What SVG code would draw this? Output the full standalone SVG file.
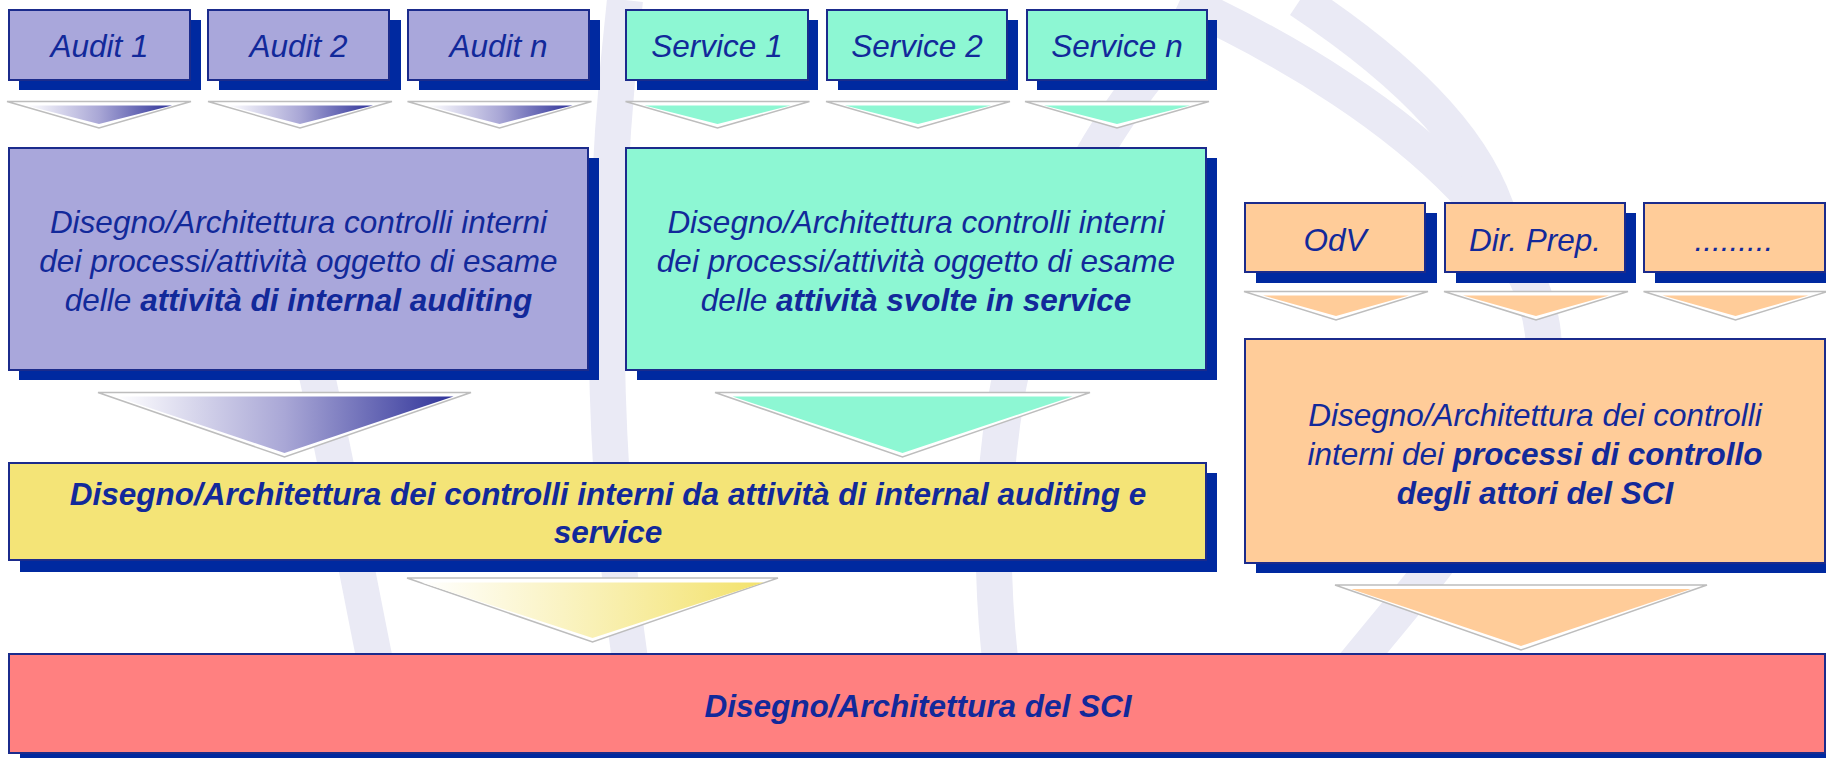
<svg xmlns="http://www.w3.org/2000/svg" width="1826" height="758" viewBox="0 0 1826 758">
<style>
.t{font-family:"Liberation Sans",Arial,sans-serif;font-style:italic;fill:#12299A;font-size:31.5px;text-anchor:middle}
.b{font-weight:bold}
.sh{fill:#0029A0}
.bx{stroke:#1B2B8C;stroke-width:2}
.lav{fill:#A9A7DB}.mint{fill:#8DF7D3}.org{fill:#FFCC99}.yel{fill:#F4E477}.red{fill:#FF8080}
.co{fill:#FFFFFF;stroke:#BDBDBD;stroke-width:1.5;stroke-linejoin:miter}
.wm{fill:none;stroke:#EAEAF5;stroke-width:36}
</style>
<defs>
<linearGradient id="gA" x1="0" y1="0" x2="1" y2="0"><stop offset="0" stop-color="#FFFFFF"/><stop offset="0.5" stop-color="#A9A7D6"/><stop offset="1" stop-color="#2F3399"/></linearGradient>
<linearGradient id="gY" x1="0" y1="0" x2="1" y2="0"><stop offset="0" stop-color="#FFFFFF"/><stop offset="1" stop-color="#F3E26C"/></linearGradient>
</defs>
<g id="watermark">
<path class="wm" d="M625,0 C600,220 595,470 645,758"/>
<path class="wm" d="M300,300 C340,470 365,620 395,758"/>
<path class="wm" d="M1215,0 C1040,170 950,420 1015,758"/>
<path class="wm" d="M1180,0 C1420,110 1570,260 1540,380 C1510,500 1400,600 1280,758"/>
<path class="wm" d="M1300,0 C1420,80 1480,150 1500,220"/>
</g>
<g id="connectors">
<polygon class="co" points="7,101.5 191,101.5 99,128"/><polygon fill="url(#gA)" points="26,105.5 172,105.5 99,124"/>
<polygon class="co" points="208,101.5 392,101.5 300,128"/><polygon fill="url(#gA)" points="227,105.5 373,105.5 300,124"/>
<polygon class="co" points="407.5,101.5 591.5,101.5 499.5,128"/><polygon fill="url(#gA)" points="426.5,105.5 572.5,105.5 499.5,124"/>
<polygon class="co" points="625.5,101.5 809.5,101.5 717.5,128"/><polygon class="mint" points="644.5,105.5 790.5,105.5 717.5,124"/>
<polygon class="co" points="826,101.5 1010,101.5 918,128"/><polygon class="mint" points="845,105.5 991,105.5 918,124"/>
<polygon class="co" points="1025,101.5 1209,101.5 1117,128"/><polygon class="mint" points="1044,105.5 1190,105.5 1117,124"/>
<polygon class="co" points="1244,291.5 1428,291.5 1336,320"/><polygon class="org" points="1263,295.5 1409,295.5 1336,316"/>
<polygon class="co" points="1444,291.5 1628,291.5 1536,320"/><polygon class="org" points="1463,295.5 1609,295.5 1536,316"/>
<polygon class="co" points="1643.5,291.5 1827.5,291.5 1735.5,320"/><polygon class="org" points="1662.5,295.5 1808.5,295.5 1735.5,316"/>
<polygon class="co" points="98,392.5 471,392.5 284.5,457"/><polygon fill="url(#gA)" points="115.5,396.5 453.5,396.5 284.5,453"/>
<polygon class="co" points="715,392.5 1090,392.5 902.5,457"/><polygon class="mint" points="732.5,396.5 1072.5,396.5 902.5,453"/>
<polygon class="co" points="407,578 778,578 592.5,642"/><polygon fill="url(#gY)" points="421.5,582.5 763.5,582.5 592.5,638"/>
<polygon class="co" points="1335,585 1707,585 1521,650"/><polygon class="org" points="1351,589 1691,589 1521,646"/>
</g>
<g id="audit1"><rect class="sh" x="19" y="20" width="182" height="70"/><rect class="bx lav" x="9" y="10" width="181" height="70"/><text class="t" x="99.5" y="57">Audit 1</text></g>
<g id="audit2"><rect class="sh" x="219" y="20" width="182" height="70"/><rect class="bx lav" x="208" y="10" width="181" height="70"/><text class="t" x="298.5" y="57">Audit 2</text></g>
<g id="auditn"><rect class="sh" x="419" y="20" width="181" height="70"/><rect class="bx lav" x="408" y="10" width="181" height="70"/><text class="t" x="498.5" y="57">Audit n</text></g>
<g id="service1"><rect class="sh" x="637" y="20" width="181" height="70"/><rect class="bx mint" x="626" y="10" width="182" height="70"/><text class="t" x="717" y="57">Service 1</text></g>
<g id="service2"><rect class="sh" x="838" y="20" width="180" height="70"/><rect class="bx mint" x="827" y="10" width="180" height="70"/><text class="t" x="917" y="57">Service 2</text></g>
<g id="servicen"><rect class="sh" x="1037" y="20" width="180" height="70"/><rect class="bx mint" x="1027" y="10" width="180" height="70"/><text class="t" x="1117" y="57">Service n</text></g>
<g id="auditbig"><rect class="sh" x="19" y="158" width="580" height="222"/><rect class="bx lav" x="9" y="148" width="579" height="222"/>
<text class="t" x="298.5" y="233">Disegno/Architettura controlli interni</text>
<text class="t" x="298.5" y="272">dei processi/attività oggetto di esame</text>
<text class="t" x="298.5" y="311">delle <tspan class="b">attività di internal auditing</tspan></text></g>
<g id="servicebig"><rect class="sh" x="637" y="158" width="580" height="222"/><rect class="bx mint" x="626" y="148" width="580" height="222"/>
<text class="t" x="916" y="233">Disegno/Architettura controlli interni</text>
<text class="t" x="916" y="272">dei processi/attività oggetto di esame</text>
<text class="t" x="916" y="311">delle <tspan class="b">attività svolte in service</tspan></text></g>
<g id="odv"><rect class="sh" x="1256" y="213" width="181" height="70"/><rect class="bx org" x="1245" y="203" width="180" height="69"/><text class="t" x="1335" y="251">OdV</text></g>
<g id="dirprep"><rect class="sh" x="1456" y="213" width="180" height="70"/><rect class="bx org" x="1445" y="203" width="180" height="69"/><text class="t" x="1535" y="251">Dir. Prep.</text></g>
<g id="altri"><rect class="sh" x="1655" y="213" width="190" height="70"/><rect class="bx org" x="1644" y="203" width="181" height="69"/><text class="t" x="1734" y="251">.........</text></g>
<g id="attori"><rect class="sh" x="1256" y="349" width="590" height="224"/><rect class="bx org" x="1245" y="339" width="580" height="224"/>
<text class="t" x="1535" y="426">Disegno/Architettura dei controlli</text>
<text class="t" x="1535" y="465">interni dei <tspan class="b">processi di controllo</tspan></text>
<text class="t b" x="1535" y="504">degli attori del SCI</text></g>
<g id="sintesi"><rect class="sh" x="20" y="473" width="1197" height="99"/><rect class="bx yel" x="9" y="463" width="1197" height="97"/>
<text class="t b" x="608" y="505">Disegno/Architettura dei controlli interni da attività di internal auditing e</text>
<text class="t b" x="608" y="543">service</text></g>
<g id="sci"><rect class="sh" x="20" y="664" width="1830" height="100"/><rect class="bx red" x="9" y="654" width="1816" height="99"/>
<text class="t b" x="918" y="717">Disegno/Architettura del SCI</text></g>
</svg>
